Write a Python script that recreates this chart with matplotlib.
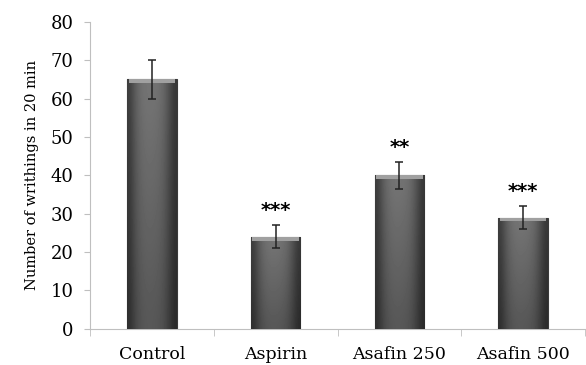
import numpy as np
from matplotlib import pyplot as plt

groups = ["Control", "Aspirin", "Asafin 250", "Asafin 500"]
means = [65, 24, 40, 29]
errors = [5, 3, 3.5, 3]
stars = ["", "***", "**", "***"]

plt.rcParams['font.family'] = ['DejaVu Serif']

fig = plt.figure(figsize=(5.86, 3.65), dpi=100)
ax = fig.add_axes([0.154, 0.099, 0.844, 0.841])

x = np.arange(len(groups))
bars = ax.bar(x, means, width=0.4, color="#5a5a5a", edgecolor="#3a3a3a", linewidth=0.8, zorder=2)

# shading on every bar: darker sides, darker towards the bottom, light top strip
side = np.array([0.22, 0.34, 0.40, 0.42, 0.42, 0.41, 0.38, 0.30, 0.20])
depth = np.linspace(1.08, 0.82, 10)[:, None]
shade = side[None, :] * depth
for b in bars:
    x0, y0 = b.get_x(), b.get_y()
    w, h = b.get_width(), b.get_height()
    im = ax.imshow(shade, cmap="gray", vmin=0, vmax=1, aspect="auto",
                   extent=(x0, x0 + w, y0, y0 + h), interpolation="bicubic", zorder=3)
    im.set_clip_path(b)
    ax.fill_between([x0 + 0.012, x0 + w - 0.012], y0 + h - 1.0, y0 + h,
                    color="#a0a0a0", zorder=4, linewidth=0)

ax.errorbar(x, means, yerr=errors, fmt="none", ecolor="#222222", elinewidth=1.1,
            capsize=3, capthick=1.1, zorder=5)

for i, s in enumerate(stars):
    if s:
        ax.text(x[i], means[i] + errors[i] + 1.3, s, ha="center", va="bottom",
                fontsize=14, fontweight="bold", family="DejaVu Sans")

ax.set_xlim(-0.5, len(groups) - 0.5)
ax.set_ylim(0, 80)
ax.set_yticks(range(0, 81, 10))
ax.set_xticks(x)
ax.set_xticklabels(groups, fontsize=12.5)
ax.set_xticks(np.arange(-0.5, len(groups), 1), minor=True)
ax.tick_params(axis="x", which="major", length=0, pad=12)
ax.tick_params(axis="x", which="minor", length=5, color="#bfbfbf")
ax.tick_params(axis="y", labelsize=13, length=4, color="#bfbfbf", pad=8)
ax.set_ylabel("Number of writhings in 20 min", fontsize=10.5, labelpad=8)

for s in ["top", "right"]:
    ax.spines[s].set_visible(False)
ax.spines["left"].set_color("#bfbfbf")
ax.spines["bottom"].set_color("#bfbfbf")

fig.savefig("out.png", dpi=100)
